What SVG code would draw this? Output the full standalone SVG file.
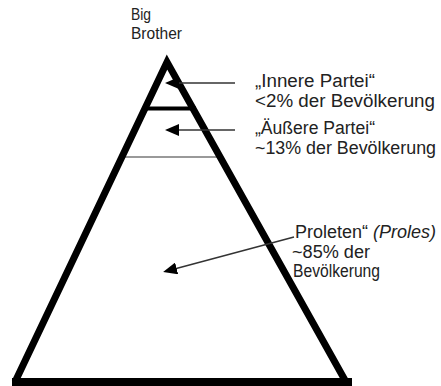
<svg xmlns="http://www.w3.org/2000/svg" width="441" height="386" viewBox="0 0 441 386">
<style>
.t{font-family:"Liberation Sans",Arial,sans-serif;fill:#222;}
.edge{fill:none;stroke:#000;stroke-width:7;stroke-linejoin:miter;stroke-miterlimit:10;}
.arr{fill:none;stroke:#333;stroke-width:1.5;marker-end:url(#ah);}
</style>
<defs>
<marker id="ah" viewBox="0 0 14 12" refX="11" refY="6" markerWidth="14" markerHeight="12" markerUnits="userSpaceOnUse" orient="auto">
<path d="M0,0 L14,6 L0,12 z" fill="#000"/>
</marker>
</defs>
<rect width="441" height="386" fill="#fff"/>
<g id="pyramid">
<line x1="120" y1="157" x2="218" y2="157" stroke="#777" stroke-width="1.5"/>
<line x1="143" y1="108.5" x2="196" y2="108.5" stroke="#000" stroke-width="4"/>
<polyline class="edge" points="15,382 167,62 346,382"/>
<rect x="12" y="378" width="340" height="8" fill="#000"/>
</g>
<g id="connectors">
<line class="arr" x1="235" y1="83" x2="168" y2="83"/>
<line class="arr" x1="235" y1="130" x2="168" y2="130"/>
<line class="arr" x1="294" y1="237" x2="166" y2="271.2"/>
</g>
<g id="big-brother">
<text class="t" x="131" y="20" font-size="16" textLength="20" lengthAdjust="spacingAndGlyphs">Big</text>
<text class="t" x="131" y="39" font-size="16" textLength="51" lengthAdjust="spacingAndGlyphs">Brother</text>
</g>
<g id="innere-partei">
<text class="t" x="255" y="87" font-size="18" textLength="120" lengthAdjust="spacingAndGlyphs">„Innere Partei“</text>
<text class="t" x="255" y="107" font-size="18" textLength="180" lengthAdjust="spacingAndGlyphs">&lt;2% der Bevölkerung</text>
</g>
<g id="aeussere-partei">
<text class="t" x="255" y="134" font-size="18" textLength="120" lengthAdjust="spacingAndGlyphs">„Äußere Partei“</text>
<text class="t" x="255" y="154" font-size="18" textLength="181" lengthAdjust="spacingAndGlyphs">~13% der Bevölkerung</text>
</g>
<g id="proleten">
<text class="t" x="295" y="238" font-size="18" textLength="141" lengthAdjust="spacingAndGlyphs">Proleten“  <tspan font-style="italic">(Proles)</tspan></text>
<text class="t" x="292" y="257.5" font-size="18" textLength="78" lengthAdjust="spacingAndGlyphs">~85% der</text>
<text class="t" x="293" y="277" font-size="18" textLength="87" lengthAdjust="spacingAndGlyphs">Bevölkerung</text>
</g>
</svg>
